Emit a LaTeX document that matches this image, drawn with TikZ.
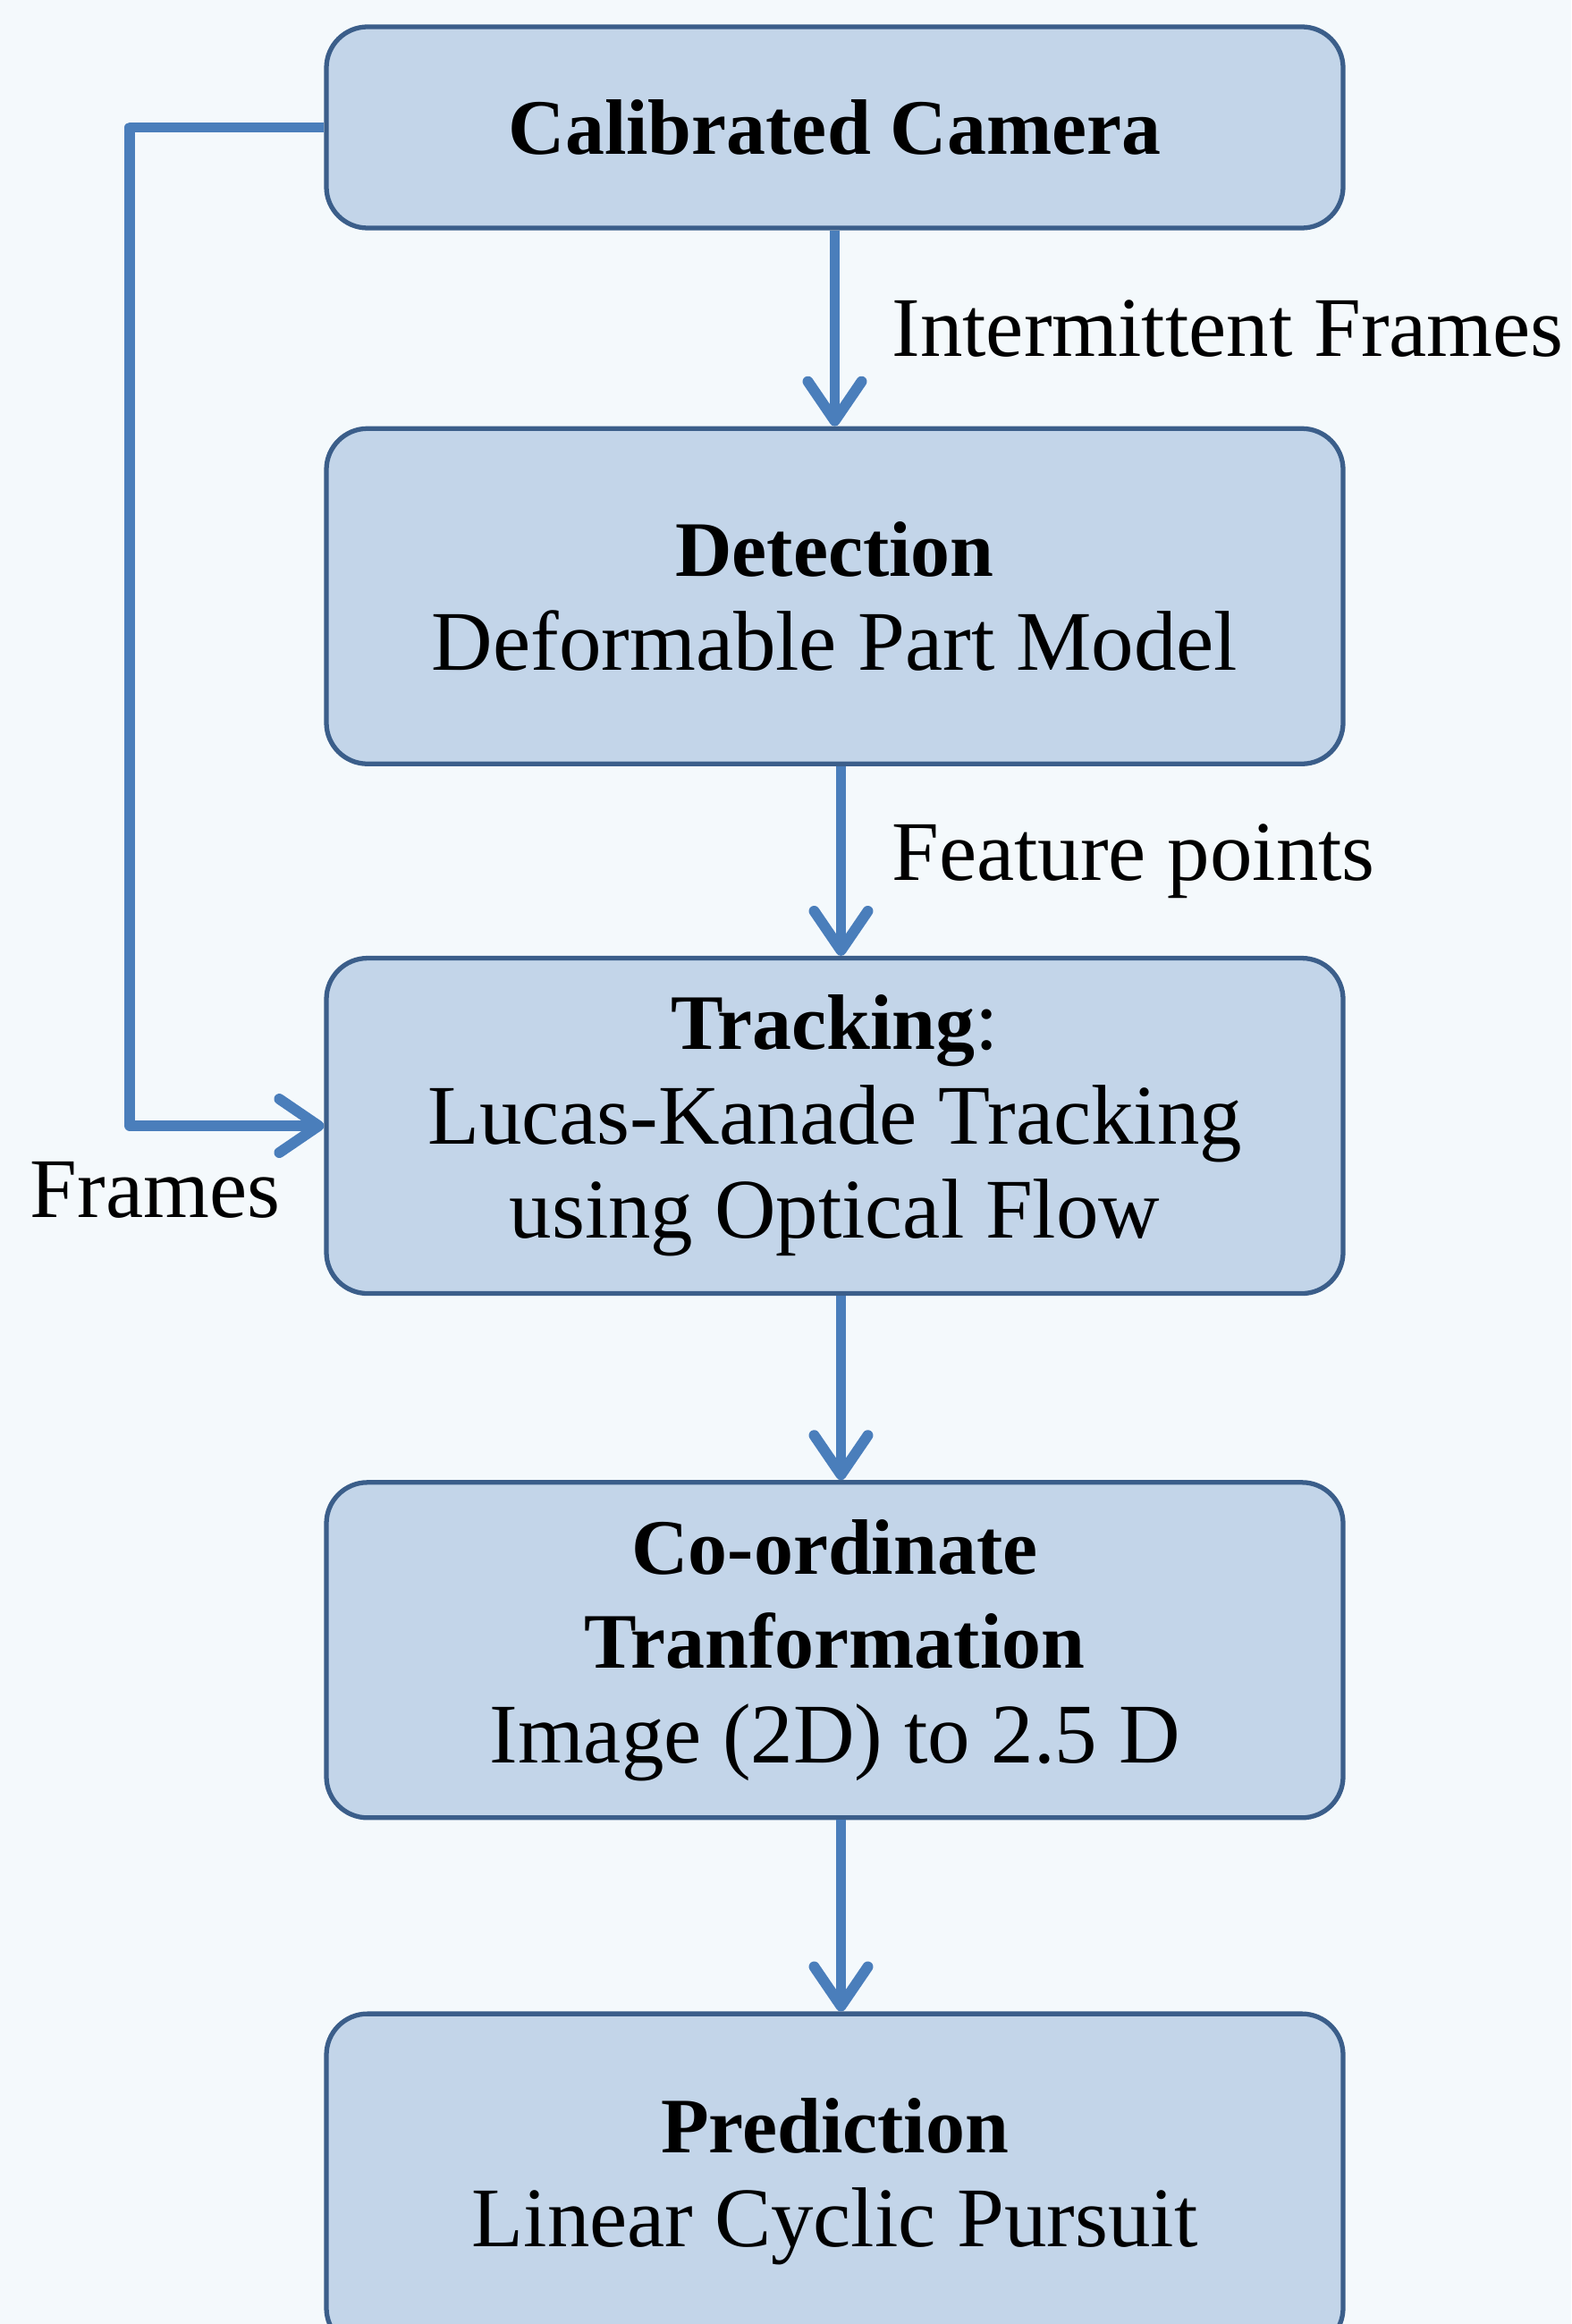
\documentclass[tikz,border=0pt]{standalone}
\usepackage{fontspec}
\setmainfont{Liberation Serif}
\usepackage{xcolor}
\definecolor{cBg}{HTML}{F4F9FC}
\definecolor{cFill}{HTML}{C3D5E9}
\definecolor{cEdge}{HTML}{3B5E8A}
\definecolor{cLink}{HTML}{4A7EBB}
\usepackage{tikz}
\usetikzlibrary{positioning,arrows.meta}
\newcommand{\boxhead}[1]{{\fontsize{25}{30}\selectfont\bfseries #1}}
\tikzset{
  node-box/.style={draw=cEdge,line width=1.5pt,fill=cFill,rounded corners=0.46cm,
    minimum width=11.37cm,minimum height=3.75cm,align=center,
    font=\fontsize{27}{30}\selectfont},
  node-head/.style={minimum height=2.25cm},
  node-lbl/.style={font=\fontsize{27}{30}\selectfont,inner sep=0pt},
  arrow/.style={-{Straight Barb[length=4.4mm,width=6mm,round]},line width=3.4pt,
    draw=cLink,line join=round},
}

\begin{document}
\begin{tikzpicture}
  \fill[cBg] (0,0) rectangle (17.57,-25.99);
  \useasboundingbox (0,0) rectangle (17.57,-25.99);
  \begin{scope}
  \clip (0,0) rectangle (17.57,-25.99);
  \node[node-box,node-head] at (9.335,-1.425) (cam) {\boxhead{Calibrated Camera}};
  \node[node-box,below=2.19cm of cam] (det) {\boxhead{Detection}\\Deformable Part Model};
  \node[node-box,below=2.12cm of det] (trk) {\boxhead{Tracking}:\\Lucas-Kanade Tracking\\using Optical Flow};
  \node[node-box,below=2.06cm of trk] (crd) {\boxhead{Co-ordinate}\\\boxhead{Tranformation}\\Image (2D) to 2.5 D};
  \node[node-box,below=2.14cm of crd] (prd) {\boxhead{Prediction}\\Linear Cyclic Pursuit};
  \end{scope}
  \draw[arrow] (cam) -- (det) node[node-lbl,midway,anchor=west,xshift=0.58cm] (lint) {Intermittent Frames};
  \draw[arrow] ([xshift=0.07cm]det.south) -- ([xshift=0.07cm]trk.north) node[node-lbl,midway,anchor=west,xshift=0.51cm] (lfeat) {Feature points};
  \draw[arrow] ([xshift=0.07cm]trk.south) -- ([xshift=0.07cm]crd.north);
  \draw[arrow] ([xshift=0.07cm]crd.south) -- ([xshift=0.07cm]prd.north);
  \draw[arrow] (cam.west) -- ++(-2.17,0) coordinate (lpt) |- (trk.west) coordinate (lend);
  \node[node-lbl,anchor=west] at (0.33,-13.31) (lfrm) {Frames};
\end{tikzpicture}
\end{document}
